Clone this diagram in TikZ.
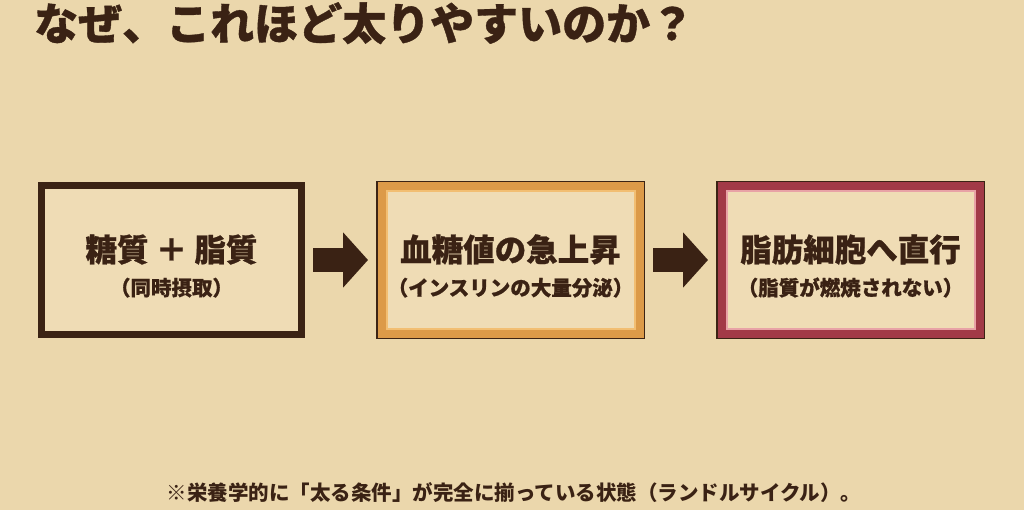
\documentclass[tikz,border=0pt]{standalone}
\usepackage{fontspec}
\setmainfont{Noto Sans CJK JP}
\newfontfamily\heavyfont{Noto Sans CJK JP}[BoldFeatures={FakeBold=0.8}]
\usetikzlibrary{positioning,arrows.meta}
\definecolor{bgtan}{HTML}{EBD7AC}
\definecolor{boxfill}{HTML}{EFDCB5}
\definecolor{inkbrown}{HTML}{3A2214}
\definecolor{framebrown}{HTML}{3B2314}
\definecolor{bandorange}{HTML}{DC9A48}
\definecolor{lineorange}{HTML}{F2BE72}
\definecolor{bandred}{HTML}{A23A47}
\definecolor{linepink}{HTML}{E8A2A6}
\tikzset{
  stagebox/.style={minimum width=260pt, minimum height=149pt, fill=boxfill, inner sep=0pt,
    align=center, text=inkbrown, text height=73pt, font=\heavyfont\bfseries\fontsize{31.5}{34}\selectfont},
  plainframe/.style={stagebox, draw=framebrown, line width=7pt},
  bandframe/.style={stagebox, minimum width=258pt, minimum height=147pt, draw=#1, line width=8pt,
    outer sep=5.5pt, preaction={draw=framebrown, line width=11pt}},
  innerline/.style={line width=2pt},
  flowarrow/.style={draw=inkbrown, line width=24pt, -{Triangle[length=25pt,width=54pt]},
    shorten <=8pt, shorten >=8pt}
}
\newcommand{\subline}[1]{{\fontsize{20.5}{23}\selectfont #1}}
\begin{document}
\begin{tikzpicture}[x=1pt,y=-1pt]
% Background
\fill[bgtan] (0,0) rectangle (1024,510);
\useasboundingbox (0,0) rectangle (1024,510);

% Title
\node[anchor=base west, inner sep=0pt, text=inkbrown, font=\heavyfont\bfseries\fontsize{44}{48}\selectfont]
  (title) at (34,40) {なぜ、これほど太りやすいのか？};

% Stages
\node[plainframe] (sugarfat) at (171.5,260) {糖質 ＋ 脂質\\\subline{（同時摂取）}};
\node[bandframe=bandorange, right=71pt of sugarfat] (glucose) {血糖値の急上昇\\\subline{（インスリンの大量分泌）}};
\node[bandframe=bandred, right=71pt of glucose] (fatcell) {脂肪細胞へ直行\\\subline{（脂質が燃焼されない）}};

% Inner lines
\draw[innerline, lineorange] ([shift={(10.5,10.5)}]glucose.north west) rectangle ([shift={(-10.5,-10.5)}]glucose.south east);
\draw[innerline, linepink] ([shift={(10.5,10.5)}]fatcell.north west) rectangle ([shift={(-10.5,-10.5)}]fatcell.south east);

% Arrows
\draw[flowarrow] (sugarfat.east) -- (glucose.west);
\draw[flowarrow] (glucose.east) -- (fatcell.west);

% Note
\node[anchor=base, inner sep=0pt, text=inkbrown, font=\bfseries\fontsize{20.5}{24}\selectfont]
  (note) at (514,500) {※栄養学的に「太る条件」が完全に揃っている状態（ランドルサイクル）。};
\end{tikzpicture}
\end{document}
